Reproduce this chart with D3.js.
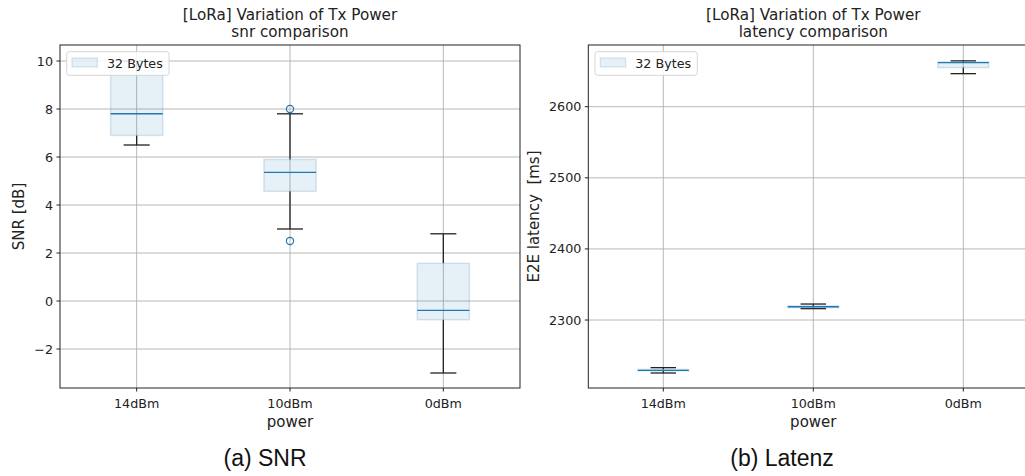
<!DOCTYPE html>
<html><head><meta charset="utf-8">
<script src="https://cdn.jsdelivr.net/npm/d3@7"></script>
<style>body{margin:0;background:#fff}svg{display:block}text{white-space:pre}</style>
</head><body><svg id="c" width="1025" height="476"></svg>
<script>
// ---- data ----
const categories = ["14dBm", "10dBm", "0dBm"];
const legendLabel = "32 Bytes";
// SNR [dB]
const snrLow = [6.5, 3.0, -3.0];
const snrQ1 = [6.9, 4.57, -0.78];
const snrMedian = [7.8, 5.36, -0.39];
const snrQ3 = [9.6, 5.9, 1.57];
const snrHigh = [10.0, 7.8, 2.8];
const snrOutliers = [[], [8.0, 2.5], []];
const snrTicks = [-2, 0, 2, 4, 6, 8, 10];
// latency [ms]
const latLow = [2225.5, 2316, 2646.5];
const latQ1 = [2228.5, 2317.5, 2655];
const latMedian = [2229.2, 2318.7, 2662];
const latQ3 = [2230.5, 2319.8, 2663];
const latHigh = [2233, 2322.5, 2664.5];
const latOutliers = [[], [], []];
const latTicks = [2300, 2400, 2500, 2600];

const panels = [
  {left: 60, right: 520, top: 45, bottom: 388, yDomain: [-3.625, 10.667],
   low: snrLow, q1: snrQ1, med: snrMedian, q3: snrQ3, high: snrHigh, out: snrOutliers, ticks: snrTicks,
   title: ["[LoRa] Variation of Tx Power", "snr comparison"], ylabel: "SNR [dB]", ylabelX: 24,
   caption: "(a) SNR", captionX: 265},
  {left: 588.3, right: 1038.3, top: 45, bottom: 388, yDomain: [2204.4, 2686.8],
   low: latLow, q1: latQ1, med: latMedian, q3: latQ3, high: latHigh, out: latOutliers, ticks: latTicks,
   title: ["[LoRa] Variation of Tx Power", "latency comparison"], ylabel: "E2E latency  [ms]", ylabelX: 539,
   caption: "(b) Latenz", captionX: 782}
];

const svg = d3.select("#c");
const FONT = "DejaVu Sans, sans-serif";
const boxFill = "rgba(31,119,180,0.11)";
const boxStroke = "rgba(120,160,195,0.28)";
const blue = "#1f77b4";

panels.forEach((p, pi) => {
  const x = d3.scaleLinear().domain([0.5, 3.5]).range([p.left, p.right]);
  const y = d3.scaleLinear().domain(p.yDomain).range([p.bottom, p.top]);
  const g = svg.append("g");

  // grid
  g.selectAll(".gy").data(p.ticks).join("line")
    .attr("x1", p.left).attr("x2", p.right)
    .attr("y1", d => y(d)).attr("y2", d => y(d))
    .attr("stroke", "#b0b0b0").attr("stroke-width", 0.9);
  g.selectAll(".gx").data(categories).join("line")
    .attr("x1", (d, i) => x(i + 1)).attr("x2", (d, i) => x(i + 1))
    .attr("y1", p.top).attr("y2", p.bottom)
    .attr("stroke", "#b0b0b0").attr("stroke-width", 0.9);

  // boxes
  const bw = 0.34, cw = 0.17;
  categories.forEach((c, i) => {
    const cx = x(i + 1);
    g.append("line").attr("x1", cx).attr("x2", cx).attr("y1", y(p.q3[i])).attr("y2", y(p.high[i]))
      .attr("stroke", "#222").attr("stroke-width", 1.3);
    g.append("line").attr("x1", cx).attr("x2", cx).attr("y1", y(p.q1[i])).attr("y2", y(p.low[i]))
      .attr("stroke", "#222").attr("stroke-width", 1.3);
    [p.low[i], p.high[i]].forEach(v => {
      g.append("line").attr("x1", x(i + 1 - cw / 2)).attr("x2", x(i + 1 + cw / 2))
        .attr("y1", y(v)).attr("y2", y(v)).attr("stroke", "#222").attr("stroke-width", 1.3);
    });
    g.append("rect").attr("x", x(i + 1 - bw / 2)).attr("width", x(i + 1 + bw / 2) - x(i + 1 - bw / 2))
      .attr("y", y(p.q3[i])).attr("height", Math.max(y(p.q1[i]) - y(p.q3[i]), 0.5))
      .attr("fill", boxFill).attr("stroke", boxStroke).attr("stroke-width", 1.5);
    g.append("line").attr("x1", x(i + 1 - bw / 2)).attr("x2", x(i + 1 + bw / 2))
      .attr("y1", y(p.med[i])).attr("y2", y(p.med[i])).attr("stroke", blue).attr("stroke-width", 1.4);
    p.out[i].forEach(v => {
      g.append("circle").attr("cx", cx).attr("cy", y(v)).attr("r", 3.6)
        .attr("fill", "none").attr("stroke", blue).attr("stroke-width", 1.2);
    });
  });

  // spines
  g.append("rect").attr("x", p.left).attr("y", p.top).attr("width", p.right - p.left).attr("height", p.bottom - p.top)
    .attr("fill", "none").attr("stroke", "#222").attr("stroke-width", 1);

  // y axis
  g.selectAll(".yt").data(p.ticks).join("line")
    .attr("x1", p.left - 3.5).attr("x2", p.left).attr("y1", d => y(d)).attr("y2", d => y(d))
    .attr("stroke", "#222").attr("stroke-width", 1);
  g.selectAll(".yl").data(p.ticks).join("text")
    .attr("x", p.left - 7).attr("y", d => y(d)).attr("dy", "0.36em")
    .attr("text-anchor", "end").attr("font-family", FONT).attr("font-size", 12.7).attr("fill", "#222")
    .text(d => d < 0 ? "\u2212" + Math.abs(d) : d);
  // x axis
  g.selectAll(".xt").data(categories).join("line")
    .attr("x1", (d, i) => x(i + 1)).attr("x2", (d, i) => x(i + 1)).attr("y1", p.bottom).attr("y2", p.bottom + 3.5)
    .attr("stroke", "#222").attr("stroke-width", 1);
  g.selectAll(".xl").data(categories).join("text")
    .attr("x", (d, i) => x(i + 1)).attr("y", 408)
    .attr("text-anchor", "middle").attr("font-family", FONT).attr("font-size", 12.7).attr("fill", "#222")
    .text(d => d);

  // labels
  g.append("text").attr("x", (p.left + p.right) / 2).attr("y", 427).attr("text-anchor", "middle")
    .attr("font-family", FONT).attr("font-size", 15).attr("fill", "#222").text("power");
  g.append("text").attr("transform", `translate(${p.ylabelX},${(p.top + p.bottom) / 2}) rotate(-90)`)
    .attr("text-anchor", "middle").attr("font-family", FONT).attr("font-size", 15).attr("fill", "#222").text(p.ylabel);
  p.title.forEach((t, k) => {
    g.append("text").attr("x", (p.left + p.right) / 2).attr("y", 20 + k * 17).attr("text-anchor", "middle")
      .attr("font-family", FONT).attr("font-size", 15.2).attr("fill", "#222").text(t);
  });

  // legend
  const lx = p.left + 6.7, ly = 51.7;
  g.append("rect").attr("x", lx).attr("y", ly).attr("width", 102.3).attr("height", 23.6).attr("rx", 2.5)
    .attr("fill", "rgba(255,255,255,0.85)").attr("stroke", "#d6d6d6").attr("stroke-width", 1);
  g.append("rect").attr("x", lx + 5.3).attr("y", ly + 6.3).attr("width", 25.3).attr("height", 9)
    .attr("fill", boxFill).attr("stroke", boxStroke).attr("stroke-width", 1.2);
  g.append("text").attr("x", lx + 40.3).attr("y", ly + 16).attr("font-family", FONT).attr("font-size", 12.7)
    .attr("fill", "#222").text(legendLabel);

  // caption
  svg.append("text").attr("x", p.captionX).attr("y", 466).attr("text-anchor", "middle")
    .attr("font-family", "Liberation Sans, Arial, sans-serif").attr("font-size", 23).attr("fill", "#111").text(p.caption);
});
</script></body></html>
